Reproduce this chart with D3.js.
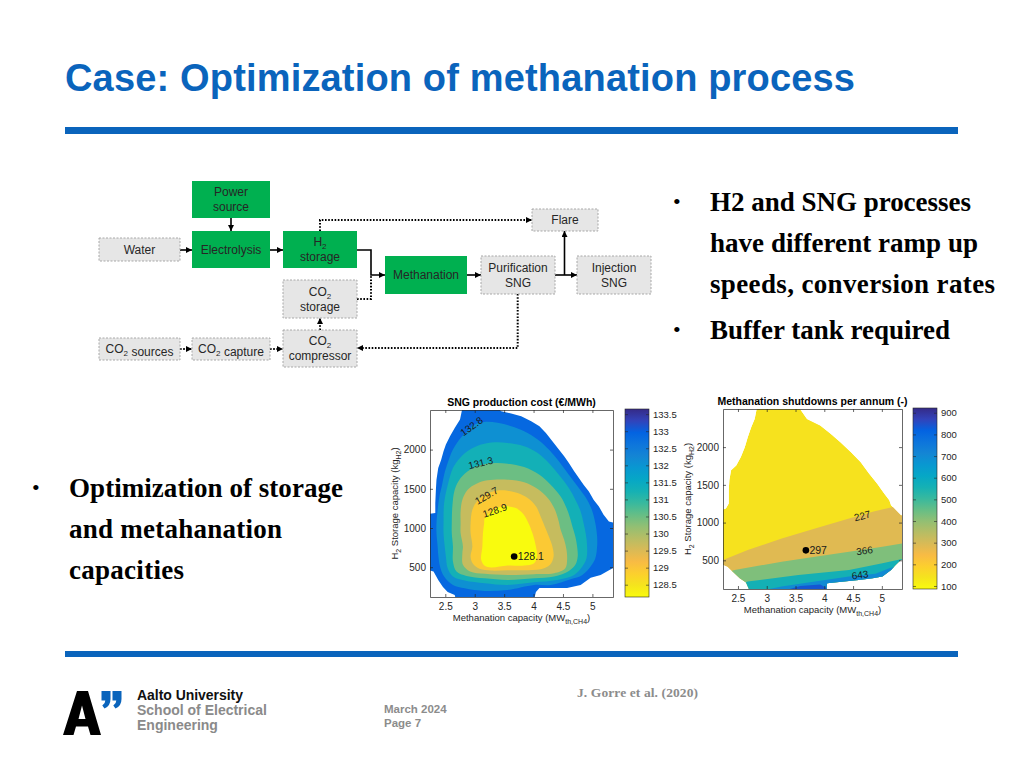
<!DOCTYPE html>
<html>
<head>
<meta charset="utf-8">
<script src="https://cdn.jsdelivr.net/npm/d3@7/dist/d3.min.js"></script>
<style>
  body { margin: 0; background: #fff; }
  svg { display: block; }
</style>
</head>
<body>
<svg id="slide" width="1024" height="768"></svg>
<script>
// ---------- data ----------
var xTicks = [2.5, 3, 3.5, 4, 4.5, 5];
var yTicks = [500, 1000, 1500, 2000];
var xDomain = [2.24, 5.35];
var yDomain = [120, 2505];

// SNG production cost (EUR/MWh)
var costLevels = [128.14, 128.93, 129.71, 130.5, 131.29, 132.08, 132.86, 133.65];
var costTicks = [128.5, 129, 129.5, 130, 130.5, 131, 131.5, 132, 132.5, 133, 133.5];
var costEdge = [[2.81,2600],[2.75,2383],[2.66,2277],[2.58,2170],[2.51,2064],[2.47,1979],[2.43,1872],[2.38,1766],[2.35,1616],[2.34,1489],[2.33,1318],[2.33,1190],[2.1,1169],[2.1,487],[2.30,445],[2.38,338],[2.46,249],[2.54,185],[2.66,146],[2.71,0],[3.98,0],[4.04,185],[4.10,236],[4.57,236],[4.80,274],[4.97,364],[5.14,402],[5.5,551],[5.5,1041],[5.28,1084],[5.19,1169],[5.11,1275],[5.02,1361],[4.94,1467],[4.85,1552],[4.77,1638],[4.69,1723],[4.60,1829],[4.52,1915],[4.43,2000],[4.32,2106],[4.21,2213],[4.10,2298],[3.96,2362],[3.79,2426],[3.62,2460],[3.45,2490],[3.28,2600]];
var cost1329 = [[2.76,2149],[2.86,2221],[3.00,2319],[3.17,2353],[3.39,2341],[3.62,2298],[3.84,2234],[4.07,2128],[4.26,2000],[4.43,1851],[4.60,1680],[4.77,1510],[4.91,1361],[4.99,1233],[5.05,1062],[5.08,892],[5.08,764],[5.05,615],[4.97,509],[4.83,402],[4.63,347],[4.29,274],[4.01,274],[3.56,210],[3.17,197],[2.83,232],[2.63,274],[2.48,381],[2.41,509],[2.38,658],[2.37,764],[2.35,935],[2.35,1062],[2.37,1233],[2.40,1403],[2.44,1531],[2.48,1680],[2.55,1851],[2.63,2000]];
var cost1321 = [[2.55,1574],[2.63,1766],[2.75,1893],[2.92,2000],[3.11,2064],[3.34,2094],[3.56,2085],[3.84,2043],[4.07,1957],[4.26,1829],[4.43,1680],[4.60,1510],[4.71,1361],[4.80,1212],[4.85,1062],[4.89,913],[4.91,764],[4.90,615],[4.83,509],[4.69,402],[4.40,338],[4.01,308],[3.56,274],[3.17,296],[2.83,330],[2.63,381],[2.54,487],[2.51,636],[2.49,764],[2.47,935],[2.47,1062],[2.48,1318]];
var cost1313 = [[2.66,1489],[2.76,1638],[2.92,1744],[3.11,1804],[3.34,1829],[3.56,1821],[3.84,1778],[4.10,1680],[4.29,1552],[4.46,1403],[4.56,1254],[4.62,1126],[4.66,1020],[4.71,892],[4.74,764],[4.75,636],[4.71,530],[4.60,453],[4.35,381],[4.01,359],[3.56,338],[3.17,359],[2.86,389],[2.69,445],[2.63,572],[2.63,764],[2.61,935],[2.61,1062],[2.62,1276]];
var cost1305 = [[2.79,1361],[2.88,1489],[3.03,1565],[3.22,1608],[3.56,1616],[3.84,1582],[4.07,1497],[4.24,1382],[4.35,1254],[4.42,1105],[4.46,977],[4.52,849],[4.56,722],[4.57,594],[4.54,487],[4.35,423],[4.01,411],[3.56,402],[3.17,415],[2.92,445],[2.80,530],[2.79,679],[2.80,764],[2.76,935],[2.76,1062],[2.76,1212]];
var cost1297 = [[2.96,1233],[3.06,1361],[3.20,1433],[3.37,1476],[3.56,1476],[3.73,1446],[3.90,1382],[4.04,1276],[4.12,1148],[4.19,1020],[4.26,892],[4.32,764],[4.34,636],[4.28,530],[4.12,474],[3.84,462],[3.56,462],[3.28,457],[3.08,479],[2.97,543],[2.93,636],[2.96,764],[2.93,935],[2.93,1062]];
var cost1289 = [[3.17,1126],[3.28,1212],[3.42,1267],[3.56,1276],[3.70,1254],[3.81,1190],[3.90,1084],[3.98,935],[4.04,764],[4.06,636],[4.01,551],[3.84,521],[3.56,521],[3.28,496],[3.17,517],[3.11,594],[3.13,764],[3.14,935],[3.16,1062]];
var costLabelText = ["132.8", "131.3", "129.7", "128.9"];
var costLabelPos = [[2.945,2297],[3.10,1830],[3.20,1412],[3.34,1224]];
var costBest = [3.67, 636];
var costBestText = "128.1";

// Methanation shutdowns per annum (-)
var shutLevels = [86, 227, 366, 505, 643, 782, 922];
var shutTicks = [100, 200, 300, 400, 500, 600, 700, 800, 900];
var shutEdge = [[2.85,2600],[2.79,2374],[2.73,2264],[2.67,2132],[2.62,2000],[2.55,1868],[2.47,1758],[2.38,1692],[2.35,1560],[2.34,1428],[2.34,1252],[2.29,1186],[2.1,1142],[2.1,482],[2.32,416],[2.41,350],[2.53,262],[2.64,205],[2.76,0],[4.02,0],[4.05,196],[4.30,215],[4.60,240],[4.84,262],[5.01,284],[5.16,372],[5.24,438],[5.33,504],[5.5,526],[5.5,1076],[5.33,1098],[5.16,1230],[5.13,1296],[5.04,1384],[4.92,1516],[4.78,1648],[4.63,1802],[4.46,1934],[4.28,2066],[4.11,2176],[3.93,2286],[3.70,2374],[3.49,2600]];
var shut227 = [[2.1,460],[2.24,504],[2.67,636],[3.26,790],[3.84,922],[4.43,1054],[4.84,1142],[5.19,1208],[5.5,1270]];
var shut366 = [[2.1,300],[2.44,372],[3.26,482],[3.84,548],[4.43,614],[5.01,680],[5.5,740]];
var shut505 = [[2.3,100],[2.67,218],[3.55,306],[4.43,372],[5.01,460],[5.27,504],[5.5,545]];
var shut643 = [[2.6,0],[2.82,86],[3.26,152],[3.84,218],[4.43,284],[4.89,322],[5.13,394],[5.5,470]];
var shut782 = [[3.2,0],[3.35,108],[3.58,161],[3.93,179],[4.10,108],[4.2,0]];
var shutLabelText = ["227", "366", "643"];
var shutLabelPos = [[4.66,1089],[4.70,627],[4.62,306]];
var shutBest = [3.68, 632];
var shutBestText = "297";

// parula colour map (low -> high)
var parulaColors = ["#352a87","#3243ba","#0363e1","#0d75dc","#1485d4","#0998d1","#06a7c6","#15b1b4","#38b99e","#65be86","#92bf73","#b7bd64","#d9ba56","#f8bb44","#fccf2e","#f5e41d","#f9fb0e"];

// ---------- drawing ----------
var svg = d3.select('#slide');
var blue = '#0a64bc';
var sans = 'Liberation Sans, Arial, Helvetica, sans-serif';
var serif = 'Liberation Serif, Times New Roman, serif';
var axisInk = '#262626';

var parula = d3.scaleLinear()
  .domain(parulaColors.map(function (c, i) { return i / (parulaColors.length - 1); }))
  .range(parulaColors)
  .interpolate(d3.interpolateRgb);

var defs = svg.append('defs');

// title + rules
svg.append('text')
  .attr('x', 65).attr('y', 91)
  .attr('font-family', sans).attr('font-weight', 'bold').attr('font-size', 38)
  .attr('fill', blue).attr('textLength', 790)
  .text('Case: Optimization of methanation process');
svg.append('rect').attr('x', 65).attr('y', 127).attr('width', 893).attr('height', 7).attr('fill', blue);
svg.append('rect').attr('x', 65).attr('y', 651).attr('width', 893).attr('height', 6).attr('fill', blue);

// bullets
function bulletLines(x, lines) {
  lines.forEach(function (l) {
    if (l.dot) {
      svg.append('text').attr('x', x - 37).attr('y', l.y - 2)
        .attr('font-family', serif).attr('font-size', 22).attr('fill', '#000').text('\u2022');
    }
    svg.append('text').attr('x', x).attr('y', l.y)
      .attr('font-family', serif).attr('font-weight', 'bold').attr('font-size', 27)
      .attr('fill', '#000').attr('textLength', l.w).text(l.t);
  });
}
bulletLines(710, [
  {t: 'H2 and SNG processes', y: 211, w: 261, dot: true},
  {t: 'have different ramp up', y: 252, w: 268},
  {t: 'speeds, conversion rates', y: 293, w: 285},
  {t: 'Buffer tank required', y: 339, w: 240, dot: true}
]);
bulletLines(69, [
  {t: 'Optimization of storage', y: 497, w: 274, dot: true},
  {t: 'and metahanation', y: 538, w: 213},
  {t: 'capacities', y: 579, w: 115}
]);

// ---------- process flow diagram ----------
defs.append('marker').attr('id', 'head')
  .attr('markerUnits', 'userSpaceOnUse').attr('markerWidth', 7).attr('markerHeight', 7)
  .attr('refX', 6).attr('refY', 3).attr('orient', 'auto')
  .append('path').attr('d', 'M0,0 L6,3 L0,6 Z').attr('fill', '#000');

var flow = svg.append('g');
function flowText(g, x, y, str) {
  var t = g.append('text').attr('x', x).attr('y', y).attr('text-anchor', 'middle')
    .attr('font-family', sans).attr('font-size', 12).attr('fill', '#262626');
  str.split(/(_\d)/).forEach(function (part) {
    if (!part) return;
    if (part[0] === '_') {
      t.append('tspan').attr('font-size', 8).attr('dy', 3).text(part.slice(1));
      t.append('tspan').attr('dy', -3).text('');
    } else {
      t.append('tspan').text(part);
    }
  });
}
function flowBox(x, y, w, h, green, lines) {
  flow.append('rect').attr('x', x).attr('y', y).attr('width', w).attr('height', h)
    .attr('fill', green ? '#00b050' : '#e6e6e6')
    .attr('stroke', green ? 'none' : '#a8a8a8')
    .attr('stroke-dasharray', '2,1.5').attr('stroke-width', 1);
  var cy = y + h / 2;
  lines.forEach(function (l, i) {
    var off = (i - (lines.length - 1) / 2) * 15;
    flowText(flow, x + w / 2, cy + off + 4, l);
  });
}
function flowArrow(pts, dotted, head) {
  flow.append('path').attr('d', d3.line()(pts))
    .attr('fill', 'none').attr('stroke', '#000')
    .attr('stroke-width', dotted ? 2 : 1.6)
    .attr('stroke-dasharray', dotted ? '1.6,1.6' : null)
    .attr('marker-end', head === false ? null : 'url(#head)');
}
flowArrow([[231, 218], [231, 231]], false);
flowArrow([[180, 250], [192, 250]], false);
flowArrow([[270, 250], [283, 250]], false);
flowArrow([[357, 250], [371, 250], [371, 275], [385, 275]], false);
flowArrow([[357, 299], [371, 299], [371, 276]], true, false);
flowArrow([[320, 231], [320, 220], [532, 220]], true);
flowArrow([[467, 275], [481, 275]], false);
flowArrow([[555, 275], [577, 275]], false);
flowArrow([[564.5, 275], [564.5, 231]], false);
flowArrow([[517.7, 294], [517.7, 348], [357, 348]], true);
flowArrow([[320, 330], [320, 318]], true);
flowArrow([[180, 349], [192, 349]], true);
flowArrow([[270, 349], [283, 349]], true);

flowBox(192, 181, 78, 37, true, ['Power', 'source']);
flowBox(99, 238, 81, 23, false, ['Water']);
flowBox(192, 231, 78, 37, true, ['Electrolysis']);
flowBox(283, 231, 74, 37, true, ['H_2', 'storage']);
flowBox(532, 209, 66, 22, false, ['Flare']);
flowBox(385, 256, 82, 38, true, ['Methanation']);
flowBox(481, 256, 74, 38, false, ['Purification', 'SNG']);
flowBox(577, 256, 74, 38, false, ['Injection', 'SNG']);
flowBox(283, 280, 74, 38, false, ['CO_2', 'storage']);
flowBox(99, 338, 81, 22, false, ['CO_2 sources']);
flowBox(192, 338, 78, 22, false, ['CO_2 capture']);
flowBox(283, 330, 74, 37, false, ['CO_2', 'compressor']);

// ---------- contour panels ----------
function contourPanel(o) {
  var g = svg.append('g');
  var x = d3.scaleLinear().domain(xDomain).range([o.left, o.right]);
  var y = d3.scaleLinear().domain(yDomain).range([o.bottom, o.top]);
  var lo = o.levels[0], hi = o.levels[o.levels.length - 1];
  var color = function (v) { return parula(1 - (v - lo) / (hi - lo)); };
  // fill colour of the band between level i and level i+1
  var bandColor = function (i) {
    return color(o.levels[i] + o.bandPos * (o.levels[i + 1] - o.levels[i]));
  };
  var toPx = function (p) { return [x(p[0]), y(p[1])]; };

  defs.append('clipPath').attr('id', o.id + 'Box').append('rect')
    .attr('x', o.left).attr('y', o.top).attr('width', o.right - o.left).attr('height', o.bottom - o.top);
  var area = g.append('g').attr('clip-path', 'url(#' + o.id + 'Box)');

  o.fill(area, bandColor, toPx);

  // contour labels
  o.labelText.forEach(function (t, i) {
    var p = toPx(o.labelPos[i]);
    area.append('text')
      .attr('transform', 'translate(' + p[0] + ',' + p[1] + ') rotate(' + o.labelAngle[i] + ')')
      .attr('text-anchor', 'middle').attr('dy', '0.35em')
      .attr('font-family', sans).attr('font-size', 10).attr('fill', '#1a1a1a').text(t);
  });
  var b = toPx(o.best);
  g.append('circle').attr('cx', b[0]).attr('cy', b[1]).attr('r', 3.3).attr('fill', '#000');
  g.append('text').attr('x', b[0] + 3.5).attr('y', b[1]).attr('dy', '0.35em')
    .attr('font-family', sans).attr('font-size', 10.5).attr('fill', '#1a1a1a').text(o.bestText);

  // axes (MATLAB style, ticks inside, box on)
  var fmt = d3.format('~g');
  g.append('g').attr('transform', 'translate(0,' + o.bottom + ')')
    .call(d3.axisBottom(x).tickValues(xTicks).tickSizeInner(-3).tickSizeOuter(0).tickPadding(6).tickFormat(fmt));
  g.append('g').attr('transform', 'translate(0,' + o.top + ')')
    .call(d3.axisTop(x).tickValues(xTicks).tickSizeInner(-3).tickSizeOuter(0).tickFormat(''));
  g.append('g').attr('transform', 'translate(' + o.left + ',0)')
    .call(d3.axisLeft(y).tickValues(yTicks).tickSizeInner(-3).tickSizeOuter(0).tickPadding(4).tickFormat(d3.format('d')));
  g.append('g').attr('transform', 'translate(' + o.right + ',0)')
    .call(d3.axisRight(y).tickValues(yTicks).tickSizeInner(-3).tickSizeOuter(0).tickFormat(''));
  g.selectAll('.domain, .tick line').attr('stroke', axisInk).attr('stroke-width', 0.7);
  g.selectAll('.tick text').attr('fill', axisInk).attr('font-family', sans).attr('font-size', 10);

  // titles
  g.append('text').attr('x', (o.left + o.right) / 2).attr('y', o.top - 4)
    .attr('text-anchor', 'middle').attr('font-family', sans).attr('font-weight', 'bold')
    .attr('font-size', 10.5).attr('fill', '#000').text(o.title);
  var xl = g.append('text').attr('x', (o.left + o.right) / 2).attr('y', o.bottom + 24)
    .attr('text-anchor', 'middle').attr('font-family', sans).attr('font-size', 9.5).attr('fill', axisInk);
  xl.append('tspan').text('Methanation capacity (MW');
  xl.append('tspan').attr('font-size', 7).attr('dy', 3).text('th,CH4');
  xl.append('tspan').attr('dy', -3).text(')');
  var yl = g.append('text')
    .attr('transform', 'translate(' + (o.left - 32) + ',' + ((o.top + o.bottom) / 2) + ') rotate(-90)')
    .attr('text-anchor', 'middle').attr('font-family', sans).attr('font-size', 9.5).attr('fill', axisInk);
  yl.append('tspan').text('H');
  yl.append('tspan').attr('font-size', 7).attr('dy', 3).text('2');
  yl.append('tspan').attr('dy', -3).text(' Storage capacity (kg');
  yl.append('tspan').attr('font-size', 7).attr('dy', 3).text('H2');
  yl.append('tspan').attr('dy', -3).text(')');

  // colour bar
  var cb = o.cbar;
  var grad = defs.append('linearGradient').attr('id', o.id + 'Grad')
    .attr('x1', 0).attr('y1', 0).attr('x2', 0).attr('y2', 1);
  parulaColors.forEach(function (c, i) {
    grad.append('stop').attr('offset', i / (parulaColors.length - 1)).attr('stop-color', c);
  });
  var cs = d3.scaleLinear().domain([lo, hi]).range([cb.bottom, cb.top]);
  g.append('rect').attr('x', cb.left).attr('y', cb.top)
    .attr('width', cb.right - cb.left).attr('height', cb.bottom - cb.top)
    .attr('fill', 'url(#' + o.id + 'Grad)').attr('stroke', axisInk).attr('stroke-width', 0.6);
  var cax = g.append('g').attr('transform', 'translate(' + cb.right + ',0)')
    .call(d3.axisRight(cs).tickValues(o.ticks).tickSizeInner(-3).tickSizeOuter(0).tickPadding(4).tickFormat(d3.format('~g')));
  cax.select('.domain').remove();
  cax.selectAll('.tick line').attr('stroke', axisInk).attr('stroke-width', 0.6);
  cax.selectAll('.tick text').attr('fill', axisInk).attr('font-family', sans).attr('font-size', 9.5);
  g.append('g').attr('transform', 'translate(' + cb.left + ',0)')
    .call(d3.axisLeft(cs).tickValues(o.ticks).tickSizeInner(-3).tickSizeOuter(0).tickFormat(''))
    .call(function (s) { s.select('.domain').remove(); s.selectAll('line').attr('stroke', axisInk).attr('stroke-width', 0.6); });
}

// left: SNG production cost
contourPanel({
  id: 'cost', left: 430, right: 613, top: 410, bottom: 597,
  levels: costLevels, ticks: costTicks, bandPos: 0,
  title: 'SNG production cost (\u20ac/MWh)',
  cbar: {left: 625, right: 649, top: 409, bottom: 597},
  labelText: costLabelText, labelPos: costLabelPos, labelAngle: [-36, -14, -30, -18],
  best: costBest, bestText: costBestText,
  fill: function (area, bandColor, toPx) {
    var edge = d3.line().curve(d3.curveLinearClosed);
    var smooth = d3.line().curve(d3.curveCatmullRomClosed.alpha(0.5));
    area.append('path').attr('d', edge(costEdge.map(toPx))).attr('fill', bandColor(6));
    var rings = [cost1329, cost1321, cost1313, cost1305, cost1297, cost1289];
    rings.forEach(function (r, i) {
      area.append('path').attr('d', smooth(r.map(toPx))).attr('fill', bandColor(5 - i));
    });
  }
});

// right: methanation shutdowns
contourPanel({
  id: 'shut', left: 723, right: 902, top: 409, bottom: 589,
  levels: shutLevels, ticks: shutTicks, bandPos: 0.4,
  title: 'Methanation shutdowns per annum (-)',
  cbar: {left: 913, right: 937, top: 408, bottom: 589},
  labelText: shutLabelText, labelPos: shutLabelPos, labelAngle: [-14, -8, -8],
  best: shutBest, bestText: shutBestText,
  fill: function (area, bandColor, toPx) {
    var edge = d3.line().curve(d3.curveLinearClosed);
    defs.append('clipPath').attr('id', 'shutEdgeClip').append('path').attr('d', edge(shutEdge.map(toPx)));
    var inner = area.append('g').attr('clip-path', 'url(#shutEdgeClip)');
    inner.append('path').attr('d', edge(shutEdge.map(toPx))).attr('fill', bandColor(0));
    var lines = [shut227, shut366, shut505, shut643, shut782];
    var floorY = yDomain[0] - 1000;
    lines.forEach(function (l, i) {
      var pts = l.concat([[l[l.length - 1][0], floorY], [l[0][0], floorY]]);
      inner.append('path').attr('d', edge(pts.map(toPx))).attr('fill', bandColor(i + 1));
    });
  }
});

// ---------- footer ----------
var foot = svg.append('g');
foot.append('path')
  .attr('d', 'M63,735 L77,691 L88,691 L101,735 L90.5,735 L88,726.5 L76,726.5 L73.5,735 Z M78.5,719 L85.5,719 L82,705.5 Z')
  .attr('fill', '#000').attr('fill-rule', 'evenodd');
[101.5, 112.5].forEach(function (qx) {
  foot.append('path')
    .attr('d', 'M' + qx + ',691 h9 v8 q0,7 -6,9.5 l-2.2,-3 q3,-1.8 3,-5 h-3.8 Z')
    .attr('fill', blue);
});
foot.append('text').attr('x', 137).attr('y', 700).attr('font-family', sans).attr('font-weight', 'bold')
  .attr('font-size', 14).attr('fill', '#111').attr('textLength', 106).text('Aalto University');
foot.append('text').attr('x', 137).attr('y', 715).attr('font-family', sans).attr('font-weight', 'bold')
  .attr('font-size', 14).attr('fill', '#8a8a8a').text('School of Electrical');
foot.append('text').attr('x', 137).attr('y', 729.5).attr('font-family', sans).attr('font-weight', 'bold')
  .attr('font-size', 14).attr('fill', '#8a8a8a').text('Engineering');
foot.append('text').attr('x', 384).attr('y', 713).attr('font-family', sans).attr('font-weight', 'bold')
  .attr('font-size', 11.5).attr('fill', '#8c8c8c').text('March 2024');
foot.append('text').attr('x', 384).attr('y', 727).attr('font-family', sans).attr('font-weight', 'bold')
  .attr('font-size', 11.5).attr('fill', '#8c8c8c').text('Page 7');
foot.append('text').attr('x', 577).attr('y', 697).attr('font-family', serif).attr('font-weight', 'bold')
  .attr('font-size', 13.5).attr('fill', '#8c8c8c').attr('textLength', 121).text('J. Gorre et al. (2020)');
</script>
</body>
</html>
